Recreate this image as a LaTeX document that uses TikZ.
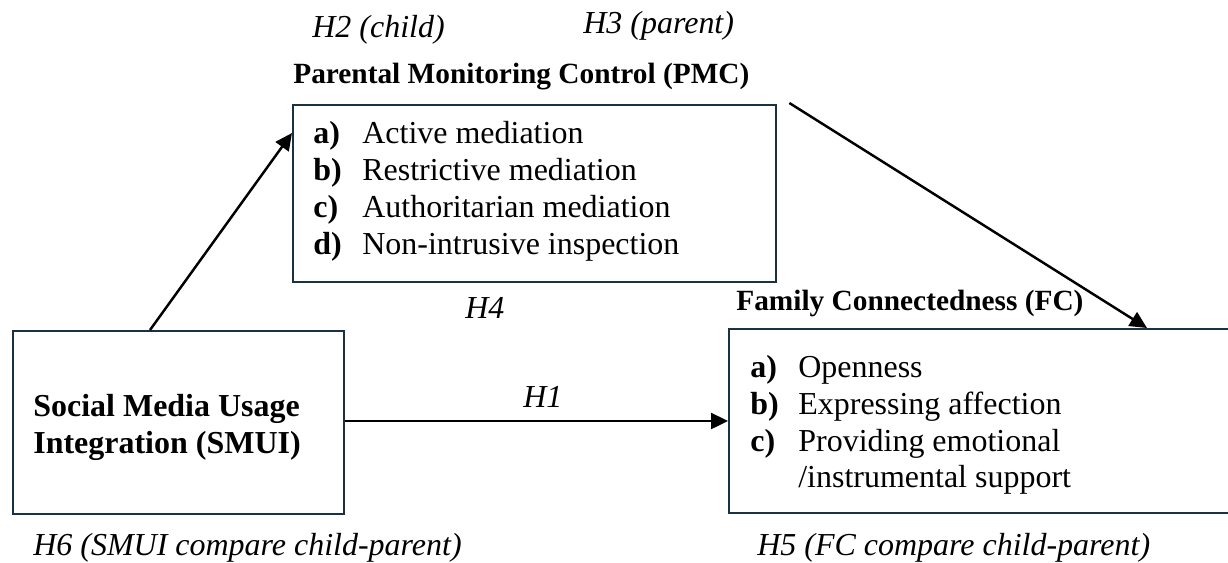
\documentclass[tikz,border=0pt]{standalone}
\usepackage{fontspec}
\setmainfont{Liberation Serif}
\usetikzlibrary{arrows.meta,calc}
\definecolor{boxline}{RGB}{24,50,68}
\begin{document}
\begin{tikzpicture}[x=0.02cm,y=-0.02cm,
  box/.style={draw=boxline,line width=1.4pt,rectangle,inner sep=0pt,anchor=north west},
  body/.style={inner sep=0pt,anchor=base west,font=\fontsize{18.2}{21}\selectfont},
  title/.style={inner sep=0pt,anchor=base west,font=\fontsize{16.7}{20}\selectfont\bfseries},
  hyp/.style={body,font=\fontsize{18.2}{21}\selectfont\itshape},
  lbl/.style={body,font=\fontsize{18.2}{21}\selectfont\bfseries},
  link/.style={draw=black,line width=1.4pt,-{Triangle[length=0.34cm,width=0.32cm]}}]
\useasboundingbox (0,0) rectangle (1228,562);
\clip (0,0) rectangle (1228,562);

% construct boxes
\node[box,minimum width=9.66cm,minimum height=3.54cm] (pmc) at (292,104) {};
\node[box,minimum width=6.62cm,minimum height=3.66cm] (smui) at (12,330) {};
\node[box,minimum width=10.24cm,minimum height=3.68cm] (fc) at (728,328) {};

% box titles
\node[title] (pmct) at (293,83) {Parental Monitoring Control (PMC)};
\node[title] (fct) at (736,310) {Family Connectedness (FC)};

% PMC dimensions
\node[lbl]  (pa) at (313,143) {a)};
\node[body] (pat) at (362,143) {Active mediation};
\node[lbl]  (pb) at (313,180) {b)};
\node[body] (pbt) at (362,180) {Restrictive mediation};
\node[lbl]  (pc) at (313,217) {c)};
\node[body] (pct) at (362,217) {Authoritarian mediation};
\node[lbl]  (pd) at (313,254) {d)};
\node[body] (pdt) at (362,254) {Non-intrusive inspection};

% FC dimensions
\node[lbl]  (fa) at (750,377) {a)};
\node[body] (fat) at (798,377) {Openness};
\node[lbl]  (fb) at (750,414) {b)};
\node[body] (fbt) at (798,414) {Expressing affection};
\node[lbl]  (fcc) at (750,451) {c)};
\node[body] (fct1) at (798,451) {Providing emotional};
\node[body] (fct2) at (798,487) {/instrumental support};

% SMUI label
\node[lbl] (s1) at (33,416) {Social Media Usage};
\node[lbl] (s2) at (33,453) {Integration (SMUI)};

% hypotheses
\node[hyp] (h2) at (312,37) {H2 (child)};
\node[hyp] (h3) at (583,33) {H3 (parent)};
\node[hyp] (h4) at (465,318) {H4};
\node[hyp] (h1) at (523,407) {H1};
\node[hyp] (h6) at (33,555) {H6 (SMUI compare child-parent)};
\node[hyp] (h5) at (757,555) {H5 (FC compare child-parent)};

% paths
\coordinate (smuitop) at ($(smui.north west)+(138,0)$);
\coordinate (pmcin) at ($(pmc.north west)+(0,29)$);
\coordinate (pmcout) at ($(pmc.north east)+(12,-1)$);
\coordinate (fcin) at ($(fc.north west)+(419,0)$);
\coordinate (smuiout) at ($(smui.north east)+(0,91)$);
\draw[link] (smuitop) -- (pmcin);
\draw[link] (pmcout) -- (fcin);
\draw[link] (smuiout) -- (fc.west |- smuiout);
\end{tikzpicture}
\end{document}
